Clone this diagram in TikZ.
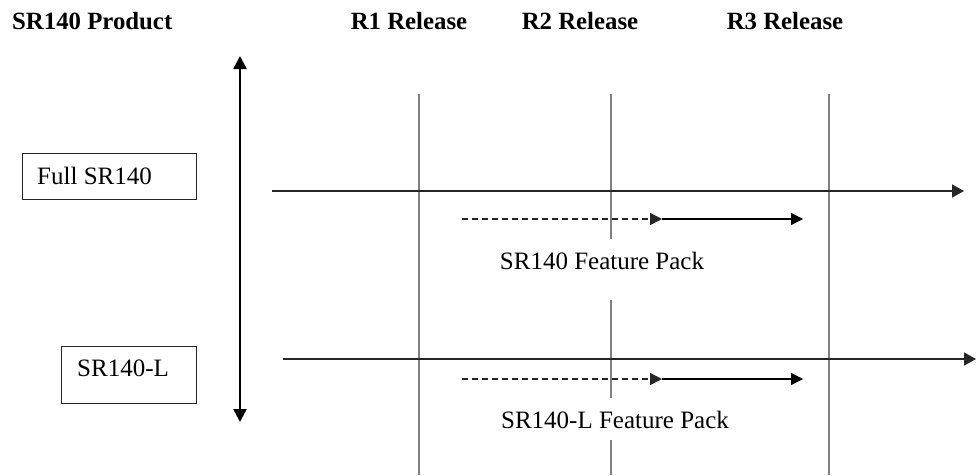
\documentclass[tikz,border=0pt]{standalone}
\usepackage{fontspec}
\setmainfont{Liberation Serif}
\usetikzlibrary{arrows.meta}
\begin{document}
\begin{tikzpicture}[x=1pt,y=-1pt,
  every node/.style={font=\fontsize{25}{29}\selectfont, inner sep=0pt},
  head/.style={font=\fontsize{24.8}{29}\selectfont\bfseries},
  prodbox/.style={draw=black!85, line width=1.3pt, anchor=north west},
  grid/.style={draw=black!50, line width=2pt},
  mainline/.style={draw=black!85, line width=1.4pt, -{Triangle[length=12pt,width=13pt]}},
  axis/.style={draw=black, line width=2.4pt, {Triangle[length=13pt,width=13pt]}-{Triangle[length=13pt,width=13pt]}},
  plan/.style={draw=black!85, line width=1.3pt, dash pattern=on 6pt off 4pt, -{Triangle[length=12pt,width=12pt]}},
  ship/.style={draw=black, line width=1.4pt, -{Triangle[length=12pt,width=12pt]}}]
\useasboundingbox (0,0) rectangle (976,475);

% headers
\node[head, anchor=west] (hp) at (12,21) {SR140 Product};
\node[head] (h1) at (409,21) {R1 Release};
\node[head] (h2) at (580,21) {R2 Release};
\node[head] (h3) at (785,21) {R3 Release};

% release grid lines
\coordinate (r1t) at (419,94); \coordinate (r1b) at (419,475);
\coordinate (r2t) at (611,94); \coordinate (r2a) at (611,239);
\coordinate (r2c) at (611,300); \coordinate (r2d) at (611,398);
\coordinate (r2e) at (611,440); \coordinate (r2b) at (611,475);
\coordinate (r3t) at (829,94); \coordinate (r3b) at (829,475);
\draw[grid] (r1t) -- (r1b);
\draw[grid] (r2t) -- (r2a);
\draw[grid] (r2c) -- (r2d);
\draw[grid] (r2e) -- (r2b);
\draw[grid] (r3t) -- (r3b);

% product boxes
\node[prodbox, minimum width=174pt, minimum height=46pt] (full) at (22,153) {};
\node[anchor=west] (fullt) at (37,176) {Full SR140};
\node[prodbox, minimum width=135pt, minimum height=57pt] (lite) at (61,346) {};
\node[anchor=west] (litet) at (77,368) {SR140-L};

% vertical axis
\coordinate (at) at (240,56); \coordinate (ab) at (240,422);
\draw[axis] (at) -- (ab);

% main product lines
\coordinate (m1s) at (272,191); \coordinate (m1e) at (964,191);
\coordinate (m2s) at (283,359); \coordinate (m2e) at (976,359);
\draw[mainline] (m1s) -- (m1e);
\draw[mainline] (m2s) -- (m2e);

% feature packs
\coordinate (f1s) at (462,219); \coordinate (f1m) at (662,219); \coordinate (f1e) at (803,219);
\draw[plan] (f1s) -- (f1m);
\draw[ship] (f1m) -- (f1e);
\node (fp1) at (602,261) {SR140 Feature Pack};

\coordinate (f2s) at (462,379); \coordinate (f2m) at (662,379); \coordinate (f2e) at (803,379);
\draw[plan] (f2s) -- (f2m);
\draw[ship] (f2m) -- (f2e);
\node (fp2) at (615,420) {SR140-L Feature Pack};
\end{tikzpicture}
\end{document}
